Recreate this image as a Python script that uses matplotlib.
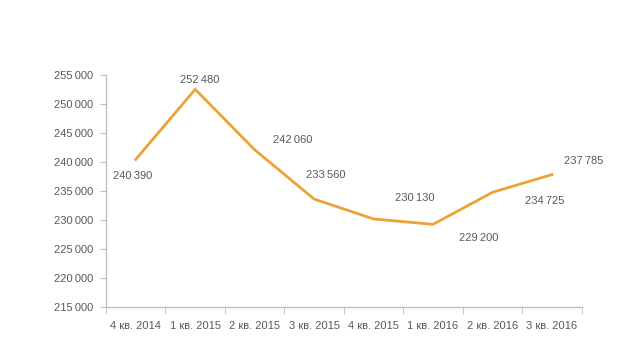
import matplotlib
matplotlib.use("Agg")
from matplotlib import pyplot as plt
import numpy as np

plt.rcParams['font.family'] = ['Liberation Sans', 'DejaVu Sans']

quarters = ['4 кв. 2014', '1 кв. 2015', '2 кв. 2015', '3 кв. 2015',
            '4 кв. 2015', '1 кв. 2016', '2 кв. 2016', '3 кв. 2016']
values = [240390, 252480, 242060, 233560, 230130, 229200, 234725, 237785]
# label offsets in pixels (dx, dy), as placed in the original
label_offsets = [(-3, -17), (4, 9), (38, 10), (12, 24), (41, 21), (46, -14), (52, -9), (32, 14)]
yticks = np.arange(215000, 255001, 5000)

def fmt(v):
    return f"{v:,}".replace(",", "\u2009")

text_color = '#595959'
axis_color = '#BFBFBF'

fig = plt.figure(figsize=(6.39, 3.6), dpi=100)
ax = fig.add_axes([0.1659, 0.148, 0.9103 - 0.1659, 0.7925 - 0.148])

x = np.arange(len(quarters))
ax.plot(x, values, color='#EDA236', lw=2, solid_joinstyle='miter')

for xi, v, (dx, dy) in zip(x, values, label_offsets):
    ax.annotate(fmt(v), (xi, v), xytext=(dx, dy), textcoords='offset pixels',
                ha='center', va='center', fontsize=8, color=text_color)

ax.set_xlim(-0.5, len(quarters) - 0.5)
ax.set_ylim(215000, 255000)
ax.set_yticks(yticks)
ax.set_yticklabels([fmt(v) for v in yticks])
ax.set_xticks(x)
ax.set_xticklabels(quarters)
ax.set_xticks(np.arange(-0.5, len(quarters)), minor=True)
ax.tick_params(axis='x', which='major', length=0, pad=10, labelsize=8, labelcolor=text_color)
ax.tick_params(axis='x', which='minor', length=5, color=axis_color, direction='out')
ax.tick_params(axis='y', length=4, color=axis_color, direction='out', pad=5,
               labelsize=8, labelcolor=text_color)

for s in ['top', 'right']:
    ax.spines[s].set_visible(False)
for s in ['left', 'bottom']:
    ax.spines[s].set_color(axis_color)
    ax.spines[s].set_linewidth(1)

fig.savefig('out.png', dpi=100)
